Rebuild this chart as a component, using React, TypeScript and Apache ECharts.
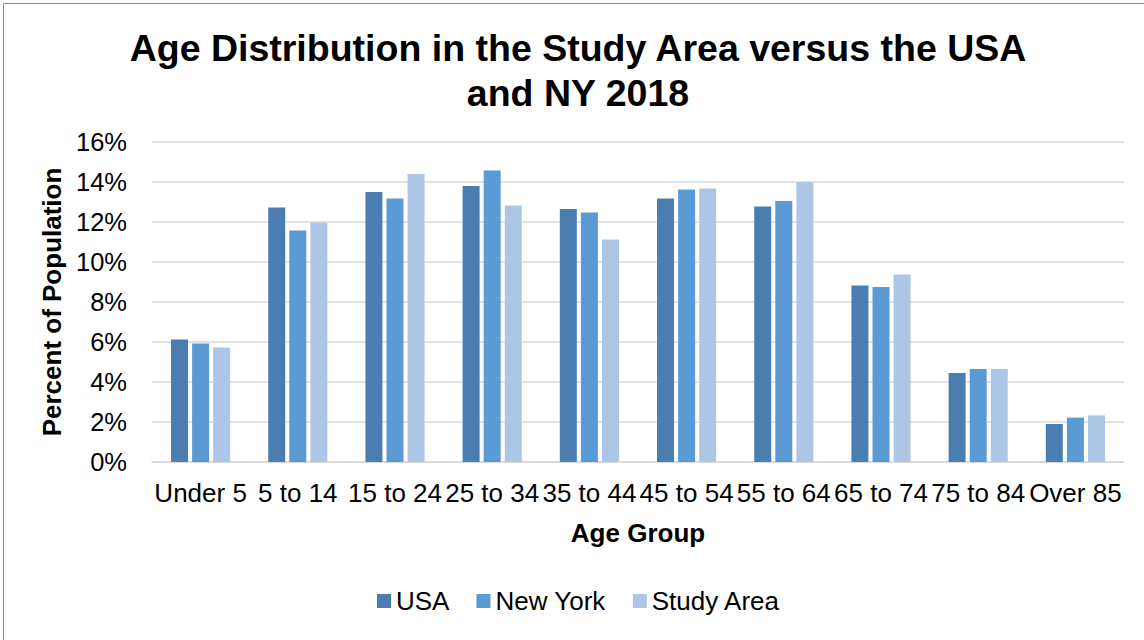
import React, { useEffect, useRef } from "react";
import * as echarts from "echarts";

const categories = ["Under 5", "5 to 14", "15 to 24", "25 to 34", "35 to 44", "45 to 54", "55 to 64", "65 to 74", "75 to 84", "Over 85"];
const usaValues = [6.13, 12.72, 13.5, 13.8, 12.65, 13.17, 12.78, 8.82, 4.45, 1.9];
const newYorkValues = [5.93, 11.57, 13.17, 14.58, 12.47, 13.62, 13.05, 8.75, 4.65, 2.22];
const studyAreaValues = [5.73, 11.97, 14.4, 12.83, 11.12, 13.67, 14.0, 9.38, 4.65, 2.33];
const seriesNames = ["USA", "New York", "Study Area"];
const seriesColors = ["#4A7EB1", "#5B9BD5", "#AEC6E5"];
const titleText = "Age Distribution in the Study Area versus the USA\nand NY 2018";
const yAxisTitle = "Percent of Population";
const xAxisTitle = "Age Group";

const FONT = "'Liberation Sans', Arial, Helvetica, sans-serif";

export default function App() {
  const ref = useRef<HTMLDivElement>(null);
  useEffect(() => {
    if (!ref.current) return;
    const chart = echarts.init(ref.current, undefined, { renderer: "svg" });
    const seriesData = [usaValues, newYorkValues, studyAreaValues];
    chart.setOption({
      animation: false,
      backgroundColor: "#ffffff",
      textStyle: { fontFamily: FONT },
      title: {
        text: titleText,
        left: 578,
        top: 25,
        padding: 0,
        textAlign: "center",
        textStyle: {
          fontFamily: FONT,
          fontSize: 37.5,
          fontWeight: "bold",
          color: "#000",
          lineHeight: 45,
        },
      },
      graphic: [
        {
          type: "rect",
          shape: { x: 3.5, y: 3.5, width: 1200, height: 700 },
          style: { fill: "none", stroke: "#8a8a8a", lineWidth: 1 },
          silent: true,
        },
      ],
      legend: {
        data: seriesNames,
        left: 372,
        top: 583,
        itemWidth: 14,
        itemHeight: 14,
        itemGap: 27,
        icon: "rect",
        textStyle: { fontFamily: FONT, fontSize: 26, color: "#000" },
      },
      grid: { left: 152, right: 20, top: 142, bottom: 178, containLabel: false },
      xAxis: {
        type: "category",
        data: categories,
        name: xAxisTitle,
        nameLocation: "middle",
        nameGap: 58,
        nameTextStyle: { fontFamily: FONT, fontSize: 26, fontWeight: "bold", color: "#000" },
        axisLine: { show: true, lineStyle: { color: "#d9d9d9", width: 1.5 } },
        axisTick: { show: false },
        axisLabel: { interval: 0, fontFamily: FONT, fontSize: 26, color: "#000", margin: 18 },
      },
      yAxis: {
        type: "value",
        min: 0,
        max: 16,
        interval: 2,
        name: yAxisTitle,
        nameLocation: "middle",
        nameGap: 86,
        nameRotate: 90,
        nameTextStyle: { fontFamily: FONT, fontSize: 26, fontWeight: "bold", color: "#000" },
        axisLine: { show: false },
        axisTick: { show: false },
        axisLabel: { formatter: "{value}%", fontFamily: FONT, fontSize: 25.5, color: "#000", margin: 25 },
        splitLine: { lineStyle: { color: "#d9d9d9", width: 1.5 } },
      },
      series: seriesNames.map((name, i) => ({
        name,
        type: "bar",
        data: seriesData[i],
        barWidth: 17,
        barGap: "24%",
        itemStyle: { color: seriesColors[i] },
      })),
    });
    return () => chart.dispose();
  }, []);
  return (
    <div
      ref={ref}
      style={{ width: 1144, height: 640, position: "fixed", left: 0, top: 0 }}
    />
  );
}
